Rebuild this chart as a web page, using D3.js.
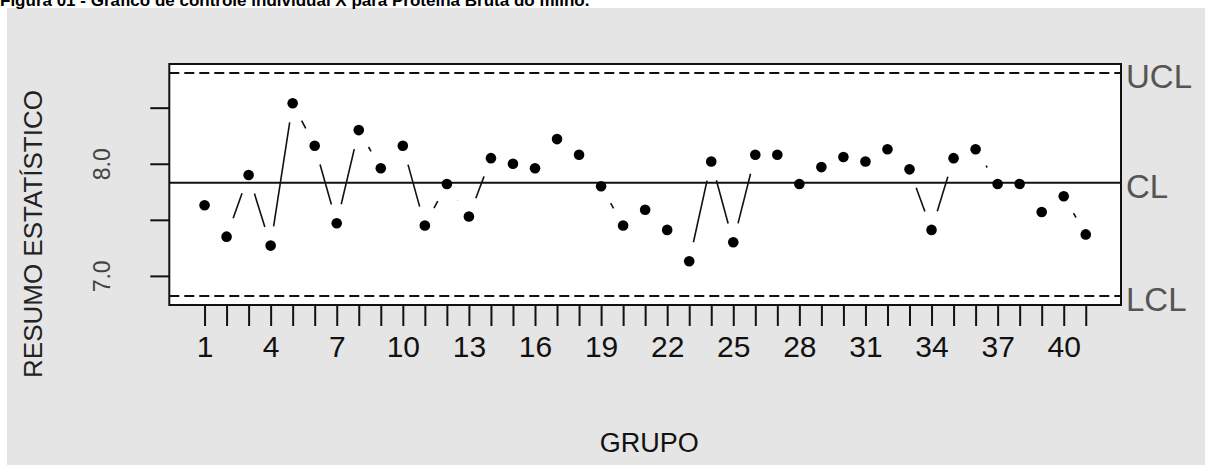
<!DOCTYPE html>
<html>
<head>
<meta charset="utf-8">
<script src="https://cdn.jsdelivr.net/npm/d3@7"></script>
<style>
    body { margin: 0; background: #fff; }
    svg { display: block; }
    text { font-family: 'Liberation Sans', Arial, sans-serif; }
</style>
</head>
<body>
<div id="chart"></div>
<script>
const valores = [7.63, 7.35, 7.90, 7.27, 8.54, 8.16, 7.47, 8.30, 7.96, 8.16,
    7.45, 7.82, 7.53, 8.05, 8.00, 7.96, 8.22, 8.08, 7.80, 7.45,
    7.59, 7.41, 7.13, 8.02, 7.30, 8.08, 8.08, 7.82, 7.97, 8.06,
    8.02, 8.13, 7.95, 7.41, 8.05, 8.13, 7.82, 7.82, 7.57, 7.71, 7.37]
const limiteNomes = ['UCL', 'CL', 'LCL']
const limiteValores = [8.81, 7.83, 6.82]
const yTicks = [7.0, 7.5, 8.0, 8.5]
const yTickLabels = ['7.0', '', '8.0', '']
const xTicks = valores.map((v, i) => i + 1)
const xTickLabels = [1, 4, 7, 10, 13, 16, 19, 22, 25, 28, 31, 34, 37, 40]
const titulo = 'Figura 01 - Gráfico de controle individual X para Proteína Bruta do milho.'

const W = 1205, H = 465
const box = { left: 169.3, right: 1121, top: 64, bottom: 305 }

const svg = d3.select('#chart')
    .append('svg')
    .attr('width', W)
    .attr('height', H)

// fundo cinza do painel
svg.append('rect')
    .attr('x', 7).attr('y', 8)
    .attr('width', W - 7).attr('height', H - 8)
    .style('fill', '#e5e5e5')

// titulo da figura, cortado na borda como no original
svg.append('text')
    .attr('x', 0).attr('y', 6)
    .text(titulo)
    .style('font-size', '17px')
    .style('font-weight', 'bold')
    .style('fill', '#000')

// 4% de folga como no R
const nPts = valores.length
const xPad = (nPts - 1) * 0.04
const x = d3.scaleLinear()
    .domain([1 - xPad, nPts + xPad])
    .range([box.left, box.right])

const lcl = limiteValores[2], ucl = limiteValores[0]
const yPad = (ucl - lcl) * 0.04
const y = d3.scaleLinear()
    .domain([lcl - yPad, ucl + yPad])
    .range([box.bottom, box.top])

svg.append('rect')
    .attr('x', box.left).attr('y', box.top)
    .attr('width', box.right - box.left)
    .attr('height', box.bottom - box.top)
    .style('fill', '#fff')

// limites
limiteNomes.forEach((nome, i) => {
    svg.append('line')
        .attr('x1', box.left).attr('x2', box.right)
        .attr('y1', y(limiteValores[i])).attr('y2', y(limiteValores[i]))
        .style('stroke', '#111')
        .style('stroke-width', 2)
        .style('stroke-dasharray', nome == 'CL' ? null : '10,5')

    svg.append('text')
        .attr('x', box.right + 5)
        .attr('y', y(limiteValores[i]) + 15)
        .text(nome)
        .style('font-size', '33px')
        .style('fill', '#555')
})

// segmentos com folga perto dos pontos (type = "b")
const gap = 19.5
for (let i = 0; i < nPts - 1; i++) {
    let x1 = x(i + 1), y1 = y(valores[i])
    let x2 = x(i + 2), y2 = y(valores[i + 1])
    let len = Math.hypot(x2 - x1, y2 - y1)
    if (len <= 2 * gap) continue
    let ux = (x2 - x1) / len, uy = (y2 - y1) / len
    svg.append('line')
        .attr('x1', x1 + ux * gap).attr('y1', y1 + uy * gap)
        .attr('x2', x2 - ux * gap).attr('y2', y2 - uy * gap)
        .style('stroke', '#111')
        .style('stroke-width', 1.6)
}

svg.selectAll('.ponto')
    .data(valores)
    .join('circle')
    .attr('class', 'ponto')
    .attr('cx', (d, i) => x(i + 1))
    .attr('cy', d => y(d))
    .attr('r', 5.3)
    .style('fill', '#000')

svg.append('rect')
    .attr('x', box.left).attr('y', box.top)
    .attr('width', box.right - box.left)
    .attr('height', box.bottom - box.top)
    .style('fill', 'none')
    .style('stroke', '#111')
    .style('stroke-width', 2)

// eixo x
const xAxis = d3.axisBottom(x)
    .tickValues(xTicks)
    .tickSize(21)
    .tickFormat(d => xTickLabels.includes(d) ? d : '')
const gx = svg.append('g')
    .attr('transform', `translate(0,${box.bottom})`)
    .call(xAxis)
gx.select('.domain').remove()
gx.selectAll('line').style('stroke', '#111').style('stroke-width', 2)
gx.selectAll('text')
    .attr('y', 52)
    .attr('dy', 0)
    .style('font-size', '30px')
    .style('fill', '#111')

// eixo y
const yAxis = d3.axisLeft(y)
    .tickValues(yTicks)
    .tickSize(19)
    .tickFormat((d, i) => yTickLabels[i])
const gy = svg.append('g')
    .attr('transform', `translate(${box.left},0)`)
    .call(yAxis)
gy.select('.domain').remove()
gy.selectAll('line').style('stroke', '#111').style('stroke-width', 2)
gy.selectAll('text')
    .attr('x', null).attr('dy', null)
    .attr('transform', 'translate(-59,0) rotate(-90)')
    .attr('text-anchor', 'middle')
    .style('font-size', '23px')
    .style('fill', '#444')

svg.append('text')
    .attr('transform', `translate(42,234) rotate(-90)`)
    .attr('text-anchor', 'middle')
    .text('RESUMO ESTATÍSTICO')
    .style('font-size', '26px')
    .style('fill', '#222')

svg.append('text')
    .attr('x', (box.left + box.right) / 2 + 4)
    .attr('y', 452)
    .attr('text-anchor', 'middle')
    .text('GRUPO')
    .style('font-size', '27px')
    .style('fill', '#111')
</script>
</body>
</html>
